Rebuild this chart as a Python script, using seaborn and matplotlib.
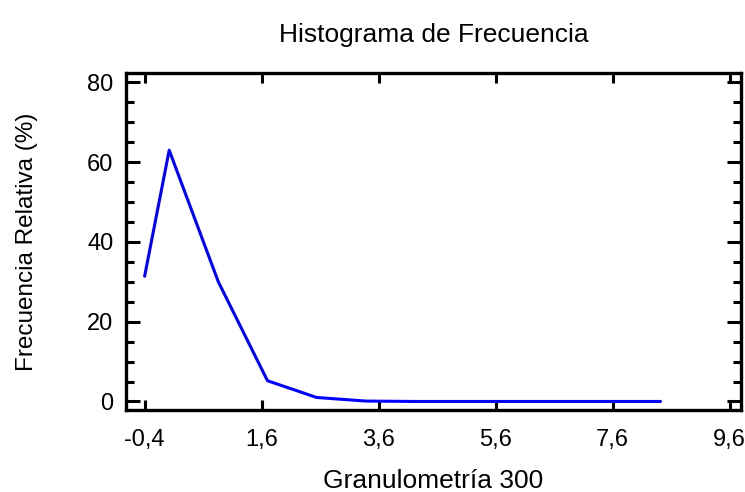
import numpy as np
import pandas as pd
import matplotlib
matplotlib.use("Agg")
import matplotlib.pyplot as plt
import seaborn as sns
from matplotlib.ticker import FixedLocator, MultipleLocator, FuncFormatter

sns.set_style("ticks")
plt.rcParams['font.family'] = ['Liberation Sans', 'DejaVu Sans']
plt.rcParams['text.color'] = 'black'
plt.rcParams['axes.labelcolor'] = 'black'

# data
granulometria = [-0.4, 0.02, 0.86, 1.70, 2.54, 3.38, 4.22, 5.06, 5.90, 6.74, 7.58, 8.42]
frecuencia = [31.4, 63.0, 30.0, 5.2, 1.0, 0.1, 0.0, 0.0, 0.0, 0.0, 0.0, 0.0]
x_ticks = [-0.4, 1.6, 3.6, 5.6, 7.6, 9.6]

df = pd.DataFrame({'x': granulometria, 'y': frecuencia})

fig = plt.figure(figsize=(7.45, 4.92), dpi=100)
ax = fig.add_axes([0.169, 0.167, 0.826, 0.685])

sns.lineplot(data=df, x='x', y='y', color='#0000ff', linewidth=2.2, ax=ax)

ax.set_xlim(-0.72, 9.8)
ax.set_ylim(-2.1, 82.4)
ax.xaxis.set_major_locator(FixedLocator(x_ticks))
ax.yaxis.set_major_locator(MultipleLocator(20))
ax.yaxis.set_minor_locator(MultipleLocator(5))
comma = FuncFormatter(lambda v, p: f"{v:.1f}".replace('.', ','))
ax.xaxis.set_major_formatter(comma)
ax.yaxis.set_major_formatter(FuncFormatter(lambda v, p: f"{v:.0f}"))

for s in ax.spines.values():
    s.set_visible(True)
    s.set_linewidth(2.4)
    s.set_color('black')
ax.tick_params(axis='both', which='both', direction='in', top=True, right=True,
               width=2.2, labelsize=17, colors='black')
ax.tick_params(axis='y', which='major', length=10, pad=9)
ax.tick_params(axis='y', which='minor', length=6)
ax.tick_params(axis='x', which='major', length=7, pad=14)

ax.set_xlabel("Granulometría 300", fontsize=19, labelpad=13)
ax.set_ylabel("Frecuencia Relativa (%)", fontsize=17.5, labelpad=35)
ax.set_title("Histograma de Frecuencia", fontsize=19, pad=22)

fig.savefig("out.png", dpi=100)
